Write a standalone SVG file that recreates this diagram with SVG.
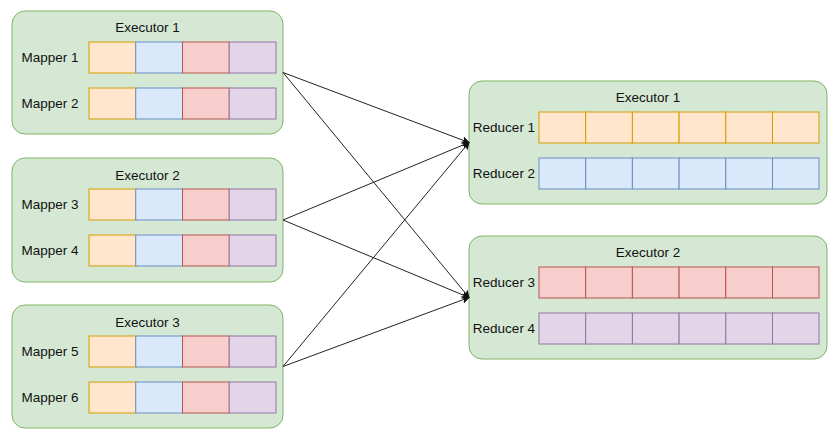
<svg xmlns="http://www.w3.org/2000/svg" width="836" height="436" viewBox="0 0 836 436">
<defs>
<style>
.ex{fill:#d5e8d4;stroke:#82b366;stroke-width:1}
.t{font-family:"Liberation Sans",Arial,sans-serif;font-size:13.5px;fill:#111;text-anchor:middle}
.o{fill:#ffe6cc;stroke:#d79b00;stroke-width:1}
.b{fill:#dae8fc;stroke:#6c8ebf;stroke-width:1}
.r{fill:#f8cecc;stroke:#b85450;stroke-width:1}
.p{fill:#e1d5e7;stroke:#9673a6;stroke-width:1}
.c{stroke:#222;stroke-width:1;fill:none;marker-end:url(#ah)}
</style>
<marker id="ah" viewBox="0 0 10 10" refX="9" refY="5" markerWidth="8" markerHeight="8" markerUnits="userSpaceOnUse" orient="auto">
<path d="M0,0 L10,5 L0,10 L2.5,5 Z" fill="#111"/>
</marker>
<g id="mrow">
<rect class="o" x="0" y="0" width="46.75" height="31"/>
<rect class="b" x="46.75" y="0" width="46.75" height="31"/>
<rect class="r" x="93.5" y="0" width="46.75" height="31"/>
<rect class="p" x="140.25" y="0" width="46.75" height="31"/>
</g>
</defs>
<g id="left-executor-1">
<rect class="ex" x="12" y="11" width="271" height="123" rx="13"/>
<text class="t" x="147.5" y="32">Executor 1</text>
<text class="t" x="50" y="62">Mapper 1</text>
<use href="#mrow" x="89" y="42"/>
<text class="t" x="50" y="108">Mapper 2</text>
<use href="#mrow" x="89" y="88"/>
</g>
<g id="left-executor-2">
<rect class="ex" x="12" y="158" width="271" height="124" rx="13"/>
<text class="t" x="147.5" y="180">Executor 2</text>
<text class="t" x="50" y="209">Mapper 3</text>
<use href="#mrow" x="89" y="189"/>
<text class="t" x="50" y="255">Mapper 4</text>
<use href="#mrow" x="89" y="235"/>
</g>
<g id="left-executor-3">
<rect class="ex" x="12" y="305" width="271" height="123" rx="13"/>
<text class="t" x="147.5" y="327">Executor 3</text>
<text class="t" x="50" y="356">Mapper 5</text>
<use href="#mrow" x="89" y="336"/>
<text class="t" x="50" y="402">Mapper 6</text>
<use href="#mrow" x="89" y="382"/>
</g>
<g id="right-executor-1">
<rect class="ex" x="469" y="81" width="358" height="123" rx="13"/>
<text class="t" x="648" y="102">Executor 1</text>
<text class="t" x="504" y="132">Reducer 1</text>
<rect class="o" x="539" y="112" width="46.7" height="31"/>
<rect class="o" x="585.7" y="112" width="46.7" height="31"/>
<rect class="o" x="632.4" y="112" width="46.7" height="31"/>
<rect class="o" x="679.1" y="112" width="46.7" height="31"/>
<rect class="o" x="725.8" y="112" width="46.7" height="31"/>
<rect class="o" x="772.5" y="112" width="46.5" height="31"/>
<text class="t" x="504" y="178">Reducer 2</text>
<rect class="b" x="539" y="158" width="46.7" height="31"/>
<rect class="b" x="585.7" y="158" width="46.7" height="31"/>
<rect class="b" x="632.4" y="158" width="46.7" height="31"/>
<rect class="b" x="679.1" y="158" width="46.7" height="31"/>
<rect class="b" x="725.8" y="158" width="46.7" height="31"/>
<rect class="b" x="772.5" y="158" width="46.5" height="31"/>
</g>
<g id="right-executor-2">
<rect class="ex" x="469" y="236" width="358" height="123" rx="13"/>
<text class="t" x="648" y="257">Executor 2</text>
<text class="t" x="504" y="287">Reducer 3</text>
<rect class="r" x="539" y="267" width="46.7" height="31"/>
<rect class="r" x="585.7" y="267" width="46.7" height="31"/>
<rect class="r" x="632.4" y="267" width="46.7" height="31"/>
<rect class="r" x="679.1" y="267" width="46.7" height="31"/>
<rect class="r" x="725.8" y="267" width="46.7" height="31"/>
<rect class="r" x="772.5" y="267" width="46.5" height="31"/>
<text class="t" x="504" y="333">Reducer 4</text>
<rect class="p" x="539" y="313" width="46.7" height="31"/>
<rect class="p" x="585.7" y="313" width="46.7" height="31"/>
<rect class="p" x="632.4" y="313" width="46.7" height="31"/>
<rect class="p" x="679.1" y="313" width="46.7" height="31"/>
<rect class="p" x="725.8" y="313" width="46.7" height="31"/>
<rect class="p" x="772.5" y="313" width="46.5" height="31"/>
</g>
<g id="connectors">
<line class="c" x1="283" y1="72.5" x2="469" y2="142.5"/>
<line class="c" x1="283" y1="72.5" x2="469" y2="297.5"/>
<line class="c" x1="283" y1="220" x2="469" y2="142.5"/>
<line class="c" x1="283" y1="220" x2="469" y2="297.5"/>
<line class="c" x1="283" y1="366.5" x2="469" y2="142.5"/>
<line class="c" x1="283" y1="366.5" x2="469" y2="297.5"/>
</g>
</svg>
